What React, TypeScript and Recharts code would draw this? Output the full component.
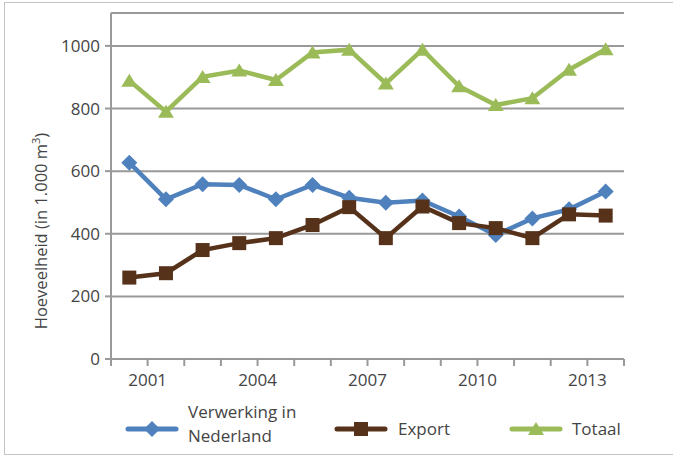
import { LineChart, Line, XAxis, YAxis, CartesianGrid, Legend } from "recharts";

const years = [2000, 2001, 2002, 2003, 2004, 2005, 2006, 2007, 2008, 2009, 2010, 2011, 2012, 2013];
const verwerking = [627, 510, 558, 556, 510, 556, 515, 499, 506, 455, 396, 449, 478, 535];
const exportVals = [260, 274, 348, 370, 386, 428, 485, 386, 487, 434, 418, 386, 462, 458];
const totaal = [889, 790, 901, 921, 891, 979, 988, 880, 988, 871, 811, 833, 924, 989];
const yTicks = [0, 200, 400, 600, 800, 1000];
const xLabels = [2001, 2004, 2007, 2010, 2013];

const BLUE = "#4f81bd";
const BROWN = "#56321a";
const GREEN = "#9bbb59";
const GRAY = "#999999";
const TEXT = "#444444";
const FONT = "'Open Sans', sans-serif";

const data = years.map((year, i) => ({
  year,
  verwerking: verwerking[i],
  export: exportVals[i],
  totaal: totaal[i],
}));

// tick marks sit between the years, like the original
const xTicks = [...years.map((y) => y - 0.5), years[years.length - 1] + 0.5];

const diamondPath = (x: number, y: number, r: number) =>
  `M${x},${y - r} L${x + r},${y} L${x},${y + r} L${x - r},${y} Z`;
const squarePath = (x: number, y: number, r: number) =>
  `M${x - r},${y - r} H${x + r} V${y + r} H${x - r} Z`;
const trianglePath = (x: number, y: number, r: number) =>
  `M${x},${y - r} L${x + r + 1},${y + r - 1} L${x - r - 1},${y + r - 1} Z`;

const makeDot = (shape: (x: number, y: number, r: number) => string, color: string, r: number) =>
  (props: any) => {
    const { cx, cy, index } = props;
    if (cx == null || cy == null) return <g key={index} />;
    return <path key={index} d={shape(cx, cy, r)} fill={color} />;
  };

function LegendIcon({ color, shape, r }: { color: string; shape: (x: number, y: number, r: number) => string; r: number }) {
  return (
    <svg width={54} height={18} style={{ position: "absolute", top: 0, left: 0 }}>
      <line x1={3} y1={9} x2={51} y2={9} stroke={color} strokeWidth={5} strokeLinecap="round" />
      <path d={shape(27, 9, r)} fill={color} />
    </svg>
  );
}

function renderLegend() {
  const text = { position: "absolute" as const, fontSize: 17, lineHeight: "24px", color: TEXT, fontFamily: FONT, whiteSpace: "nowrap" as const };
  return (
    <div style={{ position: "relative", width: 673, height: 56 }}>
      <div style={{ position: "absolute", left: 125, top: 22 }}><LegendIcon color={BLUE} shape={diamondPath} r={8} /></div>
      <div style={{ ...text, left: 188, top: 2 }}>Verwerking in<br />Nederland</div>
      <div style={{ position: "absolute", left: 334, top: 22 }}><LegendIcon color={BROWN} shape={squarePath} r={7} /></div>
      <div style={{ ...text, left: 398, top: 19 }}>Export</div>
      <div style={{ position: "absolute", left: 509, top: 22 }}><LegendIcon color={GREEN} shape={trianglePath} r={7} /></div>
      <div style={{ ...text, left: 572, top: 19 }}>Totaal</div>
    </div>
  );
}

function YLabel() {
  return (
    <text transform="translate(47,231) rotate(-90)" textAnchor="middle" fill={TEXT} fontSize={16.5} fontFamily={FONT}>
      Hoeveelheid (in 1.000 m<tspan dy={-7} fontSize={11}>3</tspan>
      <tspan dy={7}>)</tspan>
    </text>
  );
}

export default function App() {
  return (
    <div style={{ position: "absolute", left: 0, top: 0, width: 673, height: 456, background: "#fff", overflow: "hidden" }}>
      <div style={{ position: "absolute", left: 4, top: 2, width: 680, height: 451, border: "1.5px solid #c4c4c4" }} />
      <LineChart
        width={673}
        height={456}
        data={data}
        margin={{ top: 13, right: 49, bottom: 11, left: 0 }}
        style={{ fontFamily: FONT }}
      >
        <CartesianGrid vertical={false} stroke={GRAY} strokeWidth={2} />
        <XAxis
          type="number"
          dataKey="year"
          domain={[1999.5, 2013.5]}
          ticks={xTicks}
          interval={0}
          height={30}
          tickSize={7}
          tickMargin={8}
          axisLine={{ stroke: GRAY, strokeWidth: 2 }}
          tickLine={{ stroke: GRAY, strokeWidth: 2 }}
          tick={{ fill: TEXT, fontSize: 17 }}
          tickFormatter={(v: number) => (xLabels.includes(v + 0.5) ? String(v + 0.5) : "")}
        />
        <YAxis
          domain={[0, 1105]}
          ticks={yTicks}
          interval={0}
          width={111}
          tickSize={6}
          tickMargin={5}
          axisLine={{ stroke: GRAY, strokeWidth: 2 }}
          tickLine={{ stroke: GRAY, strokeWidth: 2 }}
          tick={{ fill: TEXT, fontSize: 17 }}
          label={<YLabel />}
        />
        <Legend
          verticalAlign="bottom"
          content={renderLegend}
          wrapperStyle={{ left: 0, top: 398, width: 673, height: 56 }}
        />
        <Line dataKey="verwerking" stroke={BLUE} strokeWidth={4.5} dot={makeDot(diamondPath, BLUE, 8)} isAnimationActive={false} />
        <Line dataKey="export" stroke={BROWN} strokeWidth={4.5} dot={makeDot(squarePath, BROWN, 7)} isAnimationActive={false} />
        <Line dataKey="totaal" stroke={GREEN} strokeWidth={4.5} dot={makeDot(trianglePath, GREEN, 7)} isAnimationActive={false} />
      </LineChart>
    </div>
  );
}
